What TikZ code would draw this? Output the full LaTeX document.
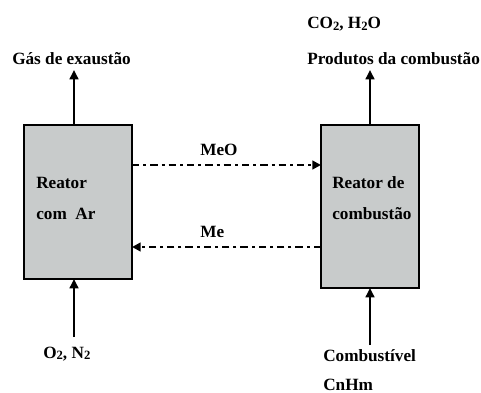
\documentclass[tikz,border=0pt]{standalone}
\usepackage{fontspec}
\setmainfont{Liberation Serif}
\usetikzlibrary{arrows.meta}
\definecolor{boxgray}{RGB}{200,203,203}
\newcommand{\mysub}[1]{\raisebox{-0.2ex}{\fontsize{9.5}{9.5}\selectfont #1}}
\begin{document}
\begin{tikzpicture}[x=0.75pt,y=-0.75pt,
  every node/.style={font=\fontsize{12.9}{15}\selectfont\bfseries, inner sep=0pt},
  reactor/.style={draw=black, line width=1.9pt, fill=boxgray, minimum width=#1},
  flow/.style={line width=1.9pt, -{Triangle[length=7pt,width=6.5pt]}},
  metal/.style={line width=1.9pt, dash pattern=on 5.5pt off 3pt on 2.25pt off 3pt, -{Triangle[length=6.5pt,width=6.5pt]}},
  lbl/.style={anchor=base west}]
\useasboundingbox (0,0) rectangle (481,392);
% boxes
\node[reactor=81pt, minimum height=115.5pt] (L) at (78,202) {};
\node[reactor=73.5pt, minimum height=122.25pt] (R) at (370,206.5) {};
% box texts
\node[lbl] (t1) at (36,188) {Reator};
\node[lbl] (t2) at (36,219.5) {com\ \ Ar};
\node[lbl] (t3) at (332,188) {Reator de};
\node[lbl] (t4) at (332,219.5) {combustão};
% coordinates
\coordinate (Ltop) at (74,125);
\coordinate (Ltip) at (74,70);
\coordinate (Lbot) at (74,279);
\coordinate (Lin) at (74,337);
\coordinate (Rtop) at (370,125);
\coordinate (Rtip) at (370,70);
\coordinate (Rbot) at (370,288);
\coordinate (Rin) at (370,345);
\coordinate (m1a) at (132,165);
\coordinate (m1b) at (321,165);
\coordinate (m2a) at (321,247);
\coordinate (m2b) at (132,247);
% labels
\node[lbl] (gas) at (12,65) {Gás de exaustão};
\node[lbl] (co2) at (307,29) {CO\mysub{2}, H\mysub{2}O};
\node[lbl] (prod) at (307,65) {Produtos da combustão};
\node[lbl] (meo) at (200,155) {MeO};
\node[lbl] (me) at (200,237) {Me};
\node[lbl] (o2) at (43,358) {O\mysub{2}, N\mysub{2}};
\node[lbl] (comb) at (323,361) {Combustível};
\node[lbl] (cnhm) at (323,390) {CnHm};
% arrows
\draw[flow] (Ltop) -- (Ltip);
\draw[flow] (Rtop) -- (Rtip);
\draw[flow] (Lin) -- (Lbot);
\draw[flow] (Rin) -- (Rbot);
\draw[metal] (m1a) -- (m1b);
\draw[metal] (m2a) -- (m2b);
\end{tikzpicture}
\end{document}
